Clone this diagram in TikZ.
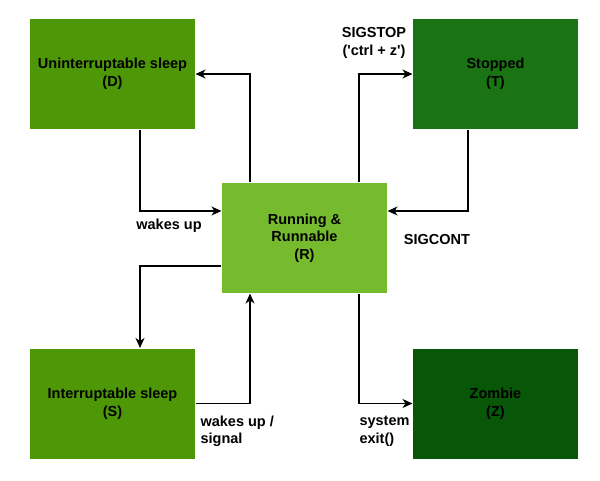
\documentclass[tikz,border=0pt]{standalone}
\usepackage{fontspec}
\setmainfont{Liberation Sans}
\usetikzlibrary{arrows.meta}
\definecolor{sleepgreen}{RGB}{78,152,8}
\definecolor{rungreen}{RGB}{118,187,46}
\definecolor{stopgreen}{RGB}{26,116,20}
\definecolor{zombiegreen}{RGB}{8,86,8}
\begin{document}
\begin{tikzpicture}[x=1pt,y=-1pt,
    state/.style={minimum width=165pt,minimum height=110pt,inner sep=0pt,
      align=center,font=\fontsize{14.5}{17.5}\selectfont\bfseries},
    lbl/.style={font=\fontsize{14.5}{17.5}\selectfont\bfseries,inner sep=0pt},
    every path/.style={line width=1.1pt},
    >={Stealth[length=10pt,width=9pt,inset=3pt]}]
      \useasboundingbox (0,0) rectangle (600,481);
      \node[state,fill=sleepgreen] (D) at (112.5,74) {Uninterruptable sleep\\(D)};
      \node[state,fill=stopgreen] (T) at (495.5,74) {Stopped\\(T)};
      \node[state,fill=rungreen] (R) at (304.5,238) {Running \&\\Runnable\\(R)};
      \node[state,fill=sleepgreen] (S) at (112.5,403.5) {Interruptable sleep\\(S)};
      \node[state,fill=zombiegreen] (Z) at (495.5,403.5) {Zombie\\(Z)};
      \begin{scope}[->]
        \draw ([xshift=-54.5]R.north) |- (D);
        \draw ([xshift=27.5]D.south) |- ([yshift=27]R.west);
        \draw ([xshift=54.5]R.north) |- (T);
        \draw ([xshift=-27.5]T.south) |- ([yshift=27]R.east);
        \draw ([yshift=-28]R.west) -| ([xshift=27.5]S.north);
        \draw (S.east) -| ([xshift=-54.5]R.south);
        \draw ([xshift=54.5]R.south) |- (Z.west);
      \end{scope}
      \node[lbl] (wake) at (169,226) {wakes up};
      \node[lbl,align=center] (stop) at (374,43) {SIGSTOP\\(\textquotesingle ctrl + z\textquotesingle)};
      \node[lbl] (cont) at (437,240) {SIGCONT};
      \node[lbl,align=left,anchor=west] (sig) at (200,431.5) {wakes up /\\signal};
      \node[lbl,align=left,anchor=west] (exit) at (359,431.5) {system\\exit()};
    \end{tikzpicture}
\end{document}
